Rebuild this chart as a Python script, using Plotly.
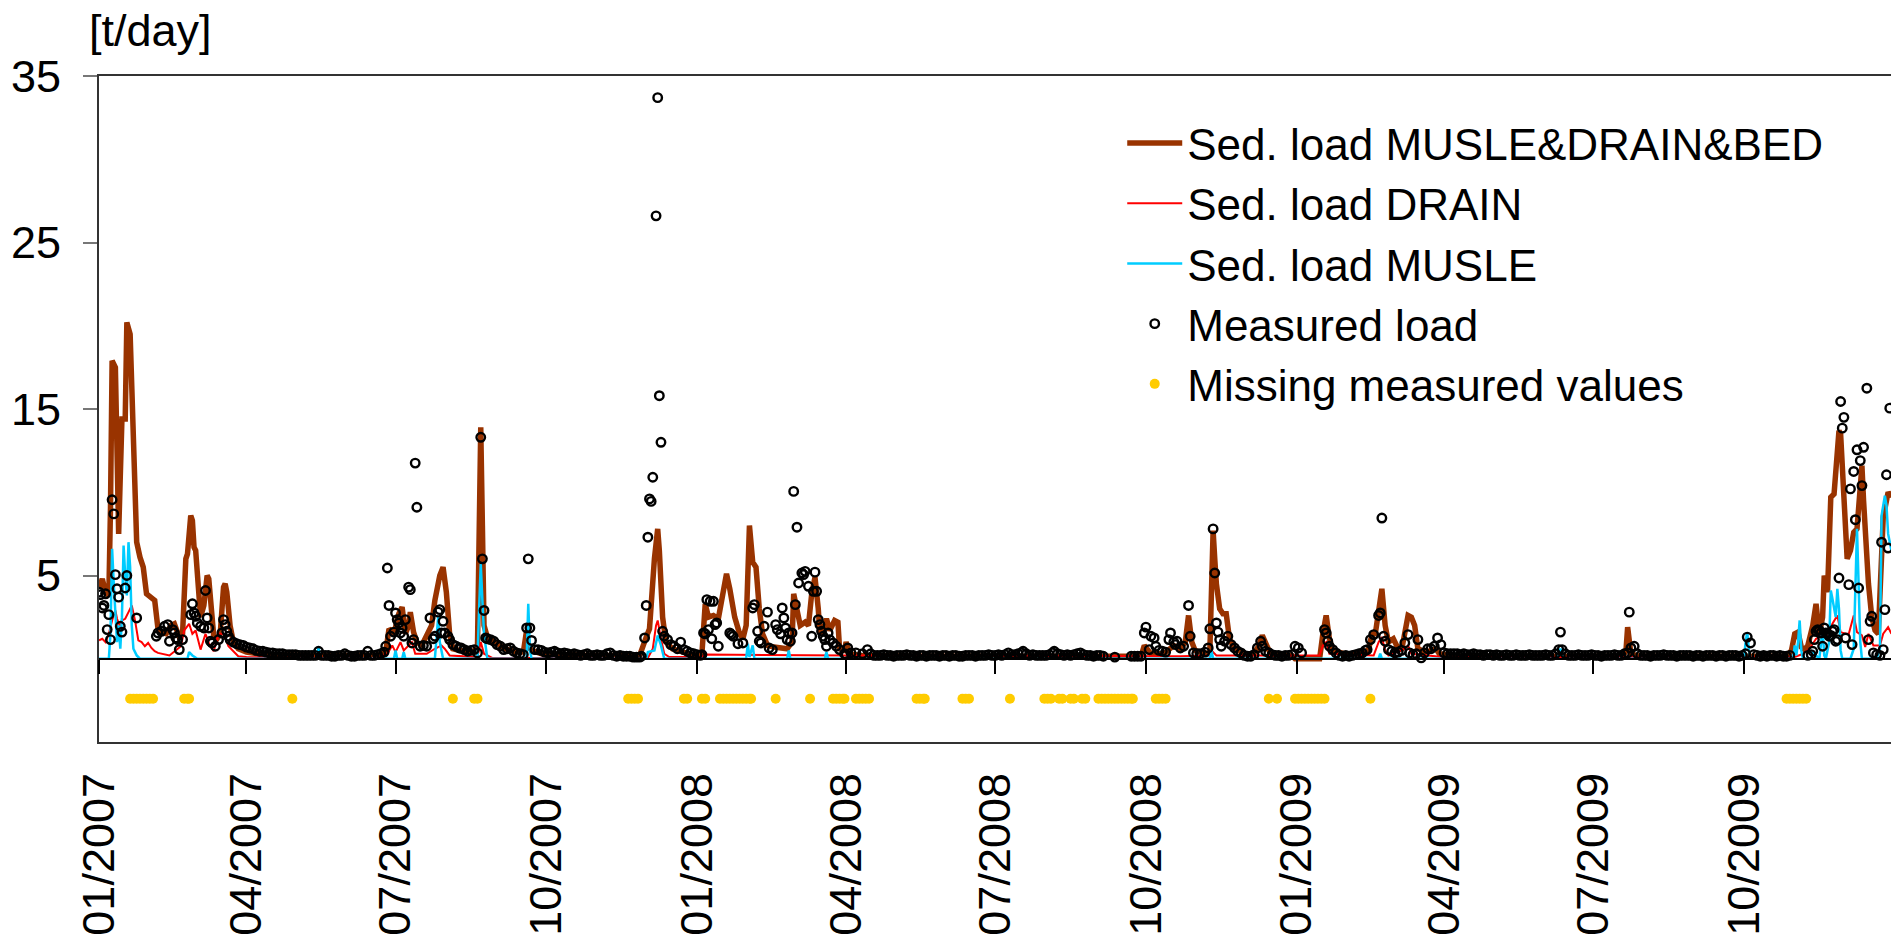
import pandas as pd
import plotly.graph_objects as go

START = pd.Timestamp("2007-01-01")

# ---------------- data (day offset from 2007-01-01, value in t/day) ----------------
brown_day = [0, 2, 4, 6, 7, 8, 10, 11, 12, 13, 14, 16, 17, 19, 20, 21, 22, 23, 25, 27, 29, 31, 34, 36, 38,
             41, 44, 46, 49, 51, 52, 53, 54, 56, 57, 58, 59, 61, 62, 64, 66, 67, 69, 70, 72, 74, 76, 77,
             78, 80, 82, 85, 90, 100, 130, 170, 175, 177, 180, 183, 185, 187, 189, 190, 192, 194, 197,
             203, 205, 208, 210, 212, 214, 216, 220, 228, 231, 232, 233, 234, 235, 237, 242, 248, 255,
             259, 261, 262, 264, 270, 300, 330, 334, 336, 339, 341, 342, 344, 346, 350, 360, 366, 368,
             369, 370, 372, 375, 378, 381, 383, 385, 388, 391, 393, 395, 397, 399, 401, 403, 405, 408,
             412, 420, 423, 424, 426, 428, 431, 433, 435, 437, 439, 440, 442, 444, 446, 449, 451, 452,
             455, 456, 458, 465, 500, 600, 636, 638, 640, 642, 650, 656, 660, 663, 665, 667, 669, 675,
             678, 679, 680, 681, 682, 684, 686, 688, 690, 693, 700, 705, 708, 710, 712, 715, 720, 728,
             730, 745, 747, 749, 751, 753, 760, 772, 775, 777, 779, 781, 783, 785, 787, 790, 792, 795,
             797, 799, 801, 803, 805, 810, 816, 818, 830, 930, 932, 933, 935, 940, 1030, 1033, 1035,
             1037, 1039, 1041, 1043, 1046, 1048, 1050, 1052, 1053, 1055, 1057, 1059, 1061, 1062, 1063,
             1065, 1067, 1069, 1071, 1073, 1075, 1076, 1077, 1078, 1080, 1082, 1084, 1086, 1088, 1089,
             1090, 1092, 1094]
brown_val = [4.2, 4.8, 4.0, 3.8, 9.0, 17.9, 17.5, 12.0, 7.5, 11.0, 14.4, 14.4, 20.2, 19.5, 16.0, 12.0, 9.0,
             7.0, 6.1, 5.5, 3.9, 3.7, 3.5, 1.8, 1.6, 1.5, 2.0, 2.1, 1.3, 1.5, 4.0, 6.0, 6.3, 8.6, 8.3,
             6.7, 6.5, 3.5, 2.5, 3.2, 5.0, 4.8, 2.5, 1.4, 1.2, 1.5, 4.3, 4.5, 4.0, 2.0, 1.0, 0.6, 0.4,
             0.25, 0.2, 0.2, 0.4, 1.8, 1.5, 2.7, 3.1, 1.5, 2.0, 2.8, 1.6, 1.0, 0.8, 2.0, 3.5, 5.0, 5.5,
             4.0, 1.5, 0.6, 0.5, 0.4, 0.7, 8.0, 13.9, 8.0, 2.0, 1.3, 1.0, 0.6, 0.4, 0.4, 1.7, 0.8, 0.5,
             0.3, 0.2, 0.2, 1.3, 1.8, 6.0, 7.8, 6.5, 2.5, 1.0, 0.6, 0.3, 0.2, 0.3, 2.5, 3.3, 2.5, 2.6,
             2.4, 4.0, 5.1, 4.2, 2.5, 1.5, 1.2, 2.0, 8.0, 5.8, 5.5, 3.0, 1.5, 0.8, 0.7, 0.6, 1.0, 3.9,
             3.0, 2.0, 2.2, 2.0, 3.9, 4.9, 3.0, 1.5, 1.7, 2.4, 1.7, 2.3, 2.2, 0.6, 0.5, 1.0, 0.3, 0.2,
             0.15, 0.15, 0.15, 0.8, 0.5, 0.3, 0.3, 0.8, 0.6, 1.0, 2.6, 1.0, 0.5, 0.3, 0.4, 4.0, 7.7,
             6.0, 4.5, 3.0, 2.7, 2.7, 1.2, 0.6, 0.3, 0.3, 0.8, 1.4, 1.0, 0.3, 0.2, 0.2, 0.0, 0.0, 1.5,
             2.6, 1.2, 0.5, 0.3, 0.3, 0.6, 1.5, 1.5, 3.0, 4.2, 2.0, 1.0, 1.2, 0.8, 0.5, 1.6, 2.6, 2.5,
             2.0, 0.6, 0.4, 0.6, 0.3, 0.15, 0.15, 0.5, 1.9, 0.3, 0.15, 0.15, 0.5, 1.5, 1.6, 0.7, 0.55,
             0.8, 2.0, 3.3, 1.5, 2.5, 5.0, 4.0, 9.7, 9.9, 12.0, 13.7, 13.5, 9.5, 6.0, 6.5, 7.6, 7.8,
             11.0, 11.6, 9.5, 7.5, 4.5, 2.5, 1.7, 1.5, 7.0, 8.5, 9.0, 10.0, 9.7]

red_day = [0, 2, 4, 6, 8, 10, 11, 13, 14, 16, 18, 20, 22, 24, 26, 28, 30, 32, 34, 36, 43, 50, 52, 55, 57,
           59, 62, 65, 67, 70, 73, 76, 79, 85, 90, 170, 176, 179, 181, 184, 186, 189, 191, 193, 200,
           205, 209, 211, 214, 231, 233, 235, 240, 335, 338, 340, 341, 343, 345, 348, 368, 370, 460,
           650, 660, 678, 680, 682, 745, 747, 749, 751, 778, 781, 783, 785, 787, 797, 799, 801, 820,
           1035, 1040, 1044, 1048, 1052, 1055, 1058, 1061, 1063, 1066, 1068, 1071, 1073, 1076, 1078,
           1080, 1083, 1087, 1089, 1092, 1094]
red_val = [1.1, 1.2, 1.0, 1.5, 2.3, 2.9, 2.4, 1.9, 2.3, 2.4, 2.8, 3.2, 2.3, 1.1, 1.0, 0.75, 0.95, 0.65,
           0.45, 0.35, 0.2, 0.75, 1.7, 2.1, 1.5, 1.7, 0.55, 1.5, 0.95, 0.45, 1.5, 1.5, 0.75, 0.15, 0.1,
           0.05, 0.3, 0.8, 0.4, 1.0, 0.5, 0.8, 1.0, 0.3, 0.3, 0.6, 0.8, 0.6, 0.2, 0.1, 1.0, 0.3, 0.05,
           0.05, 0.6, 2.0, 2.3, 1.2, 0.3, 0.1, 0.1, 0.25, 0.2, 0.15, 0.15, 0.2, 0.4, 0.2, 0.2, 0.8, 1.0,
           0.3, 0.2, 1.0, 1.3, 0.5, 0.2, 0.6, 0.8, 0.3, 0.1, 0.1, 0.3, 0.6, 1.2, 1.4, 1.3, 2.1, 2.6,
           1.6, 1.5, 1.5, 2.6, 1.6, 1.4, 0.7, 1.5, 0.8, 0.8, 1.5, 1.9, 1.5]

cyan_day = [0, 6, 7, 8, 9, 10, 11, 12, 13, 14, 15, 16, 17, 18, 19, 20, 21, 23, 25, 54, 55, 57, 60, 133,
            134, 135, 180, 181, 182, 185, 186, 187, 205, 207, 208, 210, 231, 232, 233, 234, 235, 237,
            261, 262, 263, 264, 334, 335, 339, 341, 343, 345, 395, 396, 397, 399, 400, 420, 421, 422,
            443, 444, 445, 678, 679, 680, 781, 782, 783, 890, 892, 894, 1004, 1005, 1006, 1007, 1008,
            1034, 1035, 1036, 1037, 1038, 1039, 1040, 1045, 1046, 1048, 1050, 1052, 1053, 1054, 1056,
            1057, 1058, 1060, 1061, 1062, 1063, 1064, 1069, 1071, 1073, 1074, 1075, 1076, 1085, 1087,
            1088, 1090, 1091, 1092, 1094]
cyan_val = [0, 0, 1.5, 6.6, 4.5, 3.0, 1.0, 2.0, 0.6, 2.5, 6.8, 5.0, 3.8, 7.0, 5.5, 2.0, 0.6, 0.2, 0, 0,
            0.4, 0.2, 0, 0, 0.7, 0, 0, 0.5, 0, 0, 0.4, 0, 0, 2.5, 1.0, 0, 0, 3.0, 5.7, 3.5, 1.5, 0, 0,
            3.3, 0.5, 0, 0, 0.4, 0.5, 1.4, 0.8, 0, 0, 0.9, 0.1, 0.8, 0, 0, 0.5, 0, 0, 0.4, 0, 0, 0.5, 0,
            0, 0.3, 0, 0, 0.6, 0, 0, 1.0, 1.6, 0.5, 0, 0, 0.8, 0.2, 1.0, 2.3, 0.5, 0, 0, 0.5, 0.2, 0,
            1.8, 0.2, 0, 1.0, 4.1, 3.6, 2.5, 4.2, 3.0, 0.5, 0, 0, 0.6, 7.8, 4.0, 1.0, 0, 0, 0.6, 8.6, 9.8,
            9.2, 7.5, 6.5]

meas_day_2007 = [0, 1, 2, 3, 4, 5, 6, 7, 8, 9, 10, 11, 12, 13, 14, 16, 17, 23, 35, 36, 38, 40, 42, 43, 45,
                 46, 47, 48, 49, 51, 56, 57, 58, 59, 60, 62, 64, 65, 66, 67, 68, 69, 71, 73, 75, 76, 77,
                 78, 79, 80, 82, 84, 86, 88, 90, 92, 94, 96, 98, 100, 102, 104, 106, 108, 110, 112, 114,
                 116, 118, 120, 122, 124, 126, 128, 130, 132, 134, 136, 138, 140, 142, 144, 146, 148, 150,
                 152, 154, 156, 158, 160, 162, 164, 166, 168, 170, 172, 174, 175, 176, 177, 178, 180, 181,
                 182, 183, 184, 185, 186, 187, 189, 190, 191, 192, 193, 194, 196, 198, 200, 202, 204, 205,
                 207, 208, 209, 210, 211, 213, 214, 216, 218, 220, 221, 223, 225, 227, 229, 231, 233, 234,
                 235, 236, 237, 239, 241, 243, 245, 247, 249, 251, 253, 255, 257, 259, 261, 262, 263, 264,
                 266, 268, 270, 272, 274, 276, 278, 280, 282, 284, 286, 288, 290, 292, 294, 296, 298, 300,
                 302, 304, 306, 308, 310, 312, 314, 316, 318, 320, 322, 324, 326, 328, 330, 331, 333, 334,
                 335, 336, 337, 338, 340, 341, 342, 343, 344, 345, 347, 349, 351, 353, 355, 357, 359, 361,
                 363]
meas_val_2007 = [4.0, 3.85, 3.05, 3.2, 3.9, 1.75, 2.65, 1.15, 9.55, 8.7, 5.05, 4.2, 3.7, 1.95, 1.6, 4.25,
                 5.0, 2.45, 1.35, 1.55, 1.65, 1.95, 2.05, 1.05, 1.75, 1.55, 1.25, 1.15, 0.55, 1.15, 2.65,
                 3.3, 2.75, 2.55, 2.15, 1.95, 1.85, 4.1, 2.45, 1.85, 1.05, 0.95, 0.75, 1.15, 1.55, 2.35,
                 2.05, 1.65, 1.35, 1.15, 1.0, 0.9, 0.85, 0.8, 0.7, 0.65, 0.6, 0.5, 0.45, 0.45, 0.4, 0.35,
                 0.35, 0.3, 0.3, 0.3, 0.25, 0.25, 0.25, 0.25, 0.2, 0.2, 0.2, 0.2, 0.2, 0.2, 0.45, 0.2, 0.2,
                 0.2, 0.15, 0.15, 0.2, 0.2, 0.3, 0.2, 0.15, 0.15, 0.2, 0.2, 0.2, 0.45, 0.2, 0.2, 0.25, 0.3,
                 0.4, 0.75, 5.45, 3.2, 1.35, 1.6, 2.75, 2.35, 2.15, 1.55, 1.85, 1.35, 2.35, 4.3, 4.15, 0.95,
                 1.15, 11.75, 9.1, 0.75, 0.8, 0.75, 2.45, 1.2, 1.35, 2.8, 2.95, 1.55, 2.25, 1.55, 1.35,
                 1.15, 0.85, 0.75, 0.65, 0.65, 0.55, 0.45, 0.5, 0.55, 0.35, 13.3, 6.0, 2.9, 1.25, 1.2, 1.15,
                 1.05, 0.85, 0.75, 0.55, 0.6, 0.65, 0.45, 0.35, 0.3, 0.25, 1.85, 6.0, 1.85, 1.1, 0.55,
                 0.55, 0.5, 0.4, 0.35, 0.4, 0.45, 0.35, 0.3, 0.35, 0.3, 0.25, 0.3, 0.25, 0.2, 0.25, 0.3,
                 0.2, 0.2, 0.25, 0.2, 0.2, 0.3, 0.35, 0.2, 0.15, 0.2, 0.15, 0.15, 0.15, 0.1, 0.1, 0.1, 0.15,
                 1.25, 3.2, 7.3, 9.6, 9.45, 10.9, 26.6, 33.7, 15.8, 13.0, 1.65, 1.35, 1.15, 0.85, 0.75,
                 0.6, 1.0, 0.55, 0.45, 0.35, 0.3]

meas_day_2008 = [365, 367, 368, 369, 370, 371, 372, 373, 374, 375, 376, 377, 378, 385, 386, 387, 390, 393,
                 399, 400, 402, 403, 404, 406, 408, 409, 411, 413, 414, 416, 417, 418, 419, 420, 421, 422,
                 423, 424, 425, 426, 427, 429, 430, 431, 433, 435, 436, 437, 438, 439, 440, 441, 442, 443,
                 444, 445, 446, 448, 450, 452, 455, 456, 457, 459, 462, 466, 469, 471, 473, 475, 477, 479,
                 481, 483, 485, 487, 489, 491, 493, 495, 497, 499, 501, 503, 505, 507, 509, 511, 513, 515,
                 517, 519, 521, 523, 525, 527, 529, 531, 533, 535, 537, 539, 541, 543, 545, 547, 549, 551,
                 553, 555, 557, 559, 561, 563, 564, 566, 568, 570, 572, 574, 576, 578, 580, 582, 583, 585,
                 587, 589, 591, 593, 595, 597, 599, 601, 603, 605, 607, 609, 611, 613, 620, 630, 632, 634,
                 636, 638, 639, 641, 642, 644, 645, 647, 649, 651, 653, 654, 656, 657, 658, 660, 662, 665,
                 666, 668, 670, 672, 675, 677, 678, 680, 681, 682, 683, 684, 685, 687, 689, 691, 693, 695,
                 697, 699, 701, 703, 705, 707, 709, 710, 712, 714, 716, 718, 720, 722, 724, 726, 728, 730,
                 732, 734]
meas_val_2008 = [0.25, 0.2, 0.25, 1.55, 1.5, 3.55, 1.75, 3.45, 1.2, 3.45, 2.05, 2.15, 0.75, 1.55, 1.45,
                 1.35, 0.9, 0.95, 3.05, 3.25, 1.65, 1.05, 0.95, 1.95, 2.8, 0.65, 0.55, 2.05, 1.75, 1.5,
                 3.05, 2.45, 1.85, 1.15, 1.55, 1.05, 1.55, 10.05, 3.25, 7.9, 4.55, 5.15, 5.05, 5.25, 4.35,
                 1.35, 4.05, 5.2, 4.05, 2.35, 2.05, 1.65, 1.35, 1.15, 0.75, 1.55, 1.15, 0.95, 0.75, 0.55,
                 0.3, 0.25, 0.65, 0.35, 0.35, 0.3, 0.55, 0.3, 0.2, 0.2, 0.2, 0.25, 0.2, 0.2, 0.15, 0.2, 0.2,
                 0.2, 0.25, 0.2, 0.2, 0.15, 0.2, 0.2, 0.15, 0.2, 0.2, 0.2, 0.15, 0.2, 0.2, 0.15, 0.2, 0.2,
                 0.15, 0.15, 0.2, 0.2, 0.2, 0.15, 0.2, 0.2, 0.2, 0.25, 0.2, 0.2, 0.25, 0.2, 0.25, 0.35,
                 0.25, 0.25, 0.3, 0.35, 0.45, 0.3, 0.2, 0.25, 0.2, 0.2, 0.2, 0.2, 0.25, 0.35, 0.45, 0.3,
                 0.25, 0.2, 0.25, 0.2, 0.25, 0.3, 0.35, 0.25, 0.2, 0.2, 0.15, 0.2, 0.2, 0.15, 0.1, 0.15,
                 0.15, 0.15, 0.15, 1.55, 1.9, 0.55, 1.35, 1.25, 0.75, 0.5, 0.45, 0.4, 1.15, 1.55, 1.0,
                 0.85, 1.05, 0.65, 0.75, 3.2, 1.35, 0.35, 0.3, 0.3, 0.4, 0.65, 1.8, 7.8, 5.15, 2.15, 1.6,
                 1.15, 0.75, 1.05, 1.35, 0.85, 0.65, 0.45, 0.35, 0.2, 0.15, 0.15, 0.25, 0.65, 1.05, 0.75,
                 0.45, 0.35, 0.25, 0.2, 0.2, 0.15, 0.2, 0.2, 0.25, 0.75, 0.65, 0.35]

meas_day_2009 = [748, 749, 750, 751, 753, 755, 757, 759, 761, 763, 765, 767, 769, 771, 773, 774, 776, 778,
                 781, 782, 783, 784, 785, 787, 789, 791, 793, 795, 797, 799, 800, 802, 804, 805, 807, 809,
                 811, 813, 815, 817, 819, 821, 823, 825, 827, 829, 831, 833, 835, 837, 839, 841, 843, 845,
                 847, 849, 851, 853, 855, 857, 859, 861, 863, 865, 867, 869, 871, 873, 875, 877, 879, 881,
                 883, 885, 887, 889, 891, 892, 893, 895, 897, 899, 901, 903, 905, 907, 909, 911, 913, 915,
                 917, 919, 921, 923, 925, 927, 929, 931, 933, 934, 935, 937, 939, 941, 943, 945, 947, 949,
                 951, 953, 955, 957, 959, 961, 963, 965, 967, 969, 971, 973, 975, 977, 979, 981, 983, 985,
                 987, 989, 991, 993, 995, 997, 999, 1001, 1003, 1005, 1006, 1008, 1010, 1012, 1014, 1016,
                 1018, 1020, 1022, 1024, 1026, 1028, 1030, 1032, 1043, 1045, 1046, 1047, 1048, 1049, 1050,
                 1051, 1052, 1053, 1054, 1055, 1056, 1057, 1058, 1059, 1060, 1061, 1062, 1063, 1064, 1065,
                 1066, 1068, 1069, 1070, 1071, 1072, 1073, 1074, 1075, 1076, 1077, 1079, 1080, 1081, 1082,
                 1083, 1085, 1087, 1088, 1089, 1090, 1091, 1092, 1093]
meas_val_2009 = [1.75, 1.55, 1.05, 0.75, 0.55, 0.35, 0.2, 0.15, 0.2, 0.15, 0.2, 0.25, 0.3, 0.35, 0.5, 0.55,
                 1.15, 1.45, 2.6, 2.75, 8.45, 1.35, 1.05, 0.55, 0.45, 0.35, 0.4, 0.5, 0.95, 1.45, 0.35,
                 0.25, 0.3, 1.15, 0.05, 0.35, 0.6, 0.6, 0.75, 1.25, 0.85, 0.35, 0.3, 0.3, 0.3, 0.3, 0.25,
                 0.3, 0.25, 0.25, 0.3, 0.25, 0.25, 0.2, 0.25, 0.25, 0.2, 0.25, 0.2, 0.2, 0.25, 0.2, 0.2,
                 0.25, 0.2, 0.2, 0.2, 0.25, 0.2, 0.2, 0.2, 0.2, 0.25, 0.2, 0.2, 0.3, 0.55, 1.6, 0.55, 0.3,
                 0.2, 0.2, 0.2, 0.25, 0.2, 0.2, 0.2, 0.25, 0.2, 0.2, 0.15, 0.2, 0.2, 0.2, 0.25, 0.2, 0.2,
                 0.3, 0.35, 2.8, 0.65, 0.75, 0.3, 0.2, 0.2, 0.2, 0.15, 0.2, 0.2, 0.2, 0.25, 0.2, 0.2, 0.2,
                 0.15, 0.2, 0.2, 0.2, 0.2, 0.15, 0.2, 0.2, 0.15, 0.2, 0.2, 0.2, 0.15, 0.2, 0.2, 0.15, 0.2,
                 0.2, 0.2, 0.15, 0.2, 0.3, 1.3, 0.95, 0.25, 0.2, 0.15, 0.2, 0.15, 0.2, 0.2, 0.15, 0.2, 0.15,
                 0.15, 0.2, 0.2, 0.25, 0.45, 1.15, 1.65, 1.75, 1.7, 1.55, 0.75, 1.85, 1.55, 1.5, 1.35, 1.4,
                 1.65, 1.75, 1.05, 1.15, 4.85, 15.45, 13.85, 14.5, 1.25, 4.45, 10.2, 0.85, 11.25, 8.35,
                 12.55, 4.25, 11.9, 10.4, 12.7, 16.25, 1.15, 2.25, 2.55, 0.35, 0.25, 0.2, 7.0, 0.55, 2.95,
                 11.05, 6.65, 15.05, 2.35]

missing_day = [19, 21, 23, 25, 27, 29, 31, 33, 52, 54, 55, 118, 216, 229, 231, 323, 325, 327, 329, 357,
               359, 368, 370, 379, 381, 383, 385, 387, 389, 391, 393, 395, 397, 398, 413, 434, 448, 450,
               452, 454, 455, 462, 464, 466, 468, 470, 499, 501, 503, 504, 527, 529, 531, 556, 577, 579,
               581, 586, 588, 593, 595, 600, 602, 610, 612, 614, 616, 618, 620, 622, 624, 626, 628, 630,
               631, 645, 647, 649, 651, 714, 719, 730, 732, 734, 736, 738, 740, 742, 744, 746, 748, 776,
               1030, 1032, 1034, 1036, 1038, 1040, 1042]
missing_level = -2.4

tick_days = [0, 90, 181, 273, 365, 456, 547, 639, 731, 821, 912, 1004]
tick_text = ["01/2007", "04/2007", "07/2007", "10/2007", "01/2008", "04/2008", "07/2008", "10/2008",
             "01/2009", "04/2009", "07/2009", "10/2009"]
x_end_day = 1093.75


def to_dates(days):
    return [START + pd.Timedelta(days=d) for d in days]


FONT = "Arial, 'Liberation Sans', sans-serif"

fig = go.Figure()
fig.add_trace(go.Scatter(x=to_dates(brown_day), y=brown_val, mode="lines",
                         name="Sed. load MUSLE&DRAIN&BED",
                         line=dict(color="#993300", width=5.5)))
fig.add_trace(go.Scatter(x=to_dates(red_day), y=red_val, mode="lines", name="Sed. load DRAIN",
                         line=dict(color="#FF0000", width=2)))
fig.add_trace(go.Scatter(x=to_dates(cyan_day), y=cyan_val, mode="lines", name="Sed. load MUSLE",
                         line=dict(color="#00CCFF", width=2.5)))
meas_day = meas_day_2007 + meas_day_2008 + meas_day_2009
meas_val = meas_val_2007 + meas_val_2008 + meas_val_2009
fig.add_trace(go.Scatter(x=to_dates(meas_day), y=meas_val, mode="markers", name="Measured load",
                         marker=dict(symbol="circle-open", size=8.5, color="black",
                                     line=dict(width=2.4, color="black"))))
fig.add_trace(go.Scatter(x=to_dates(missing_day), y=[missing_level] * len(missing_day), mode="markers",
                         name="Missing measured values",
                         marker=dict(symbol="circle", size=10, color="#FFCC00")))

x_range = [START, START + pd.Timedelta(days=x_end_day)]
tick_dates = to_dates(tick_days)

# empty helper trace so that the zero-level axis (x2) is rendered
fig.add_trace(go.Scatter(x=[], y=[], xaxis="x2", yaxis="y", showlegend=False, hoverinfo="skip"))

fig.update_layout(
    width=1891, height=945,
    margin=dict(l=99, r=0, t=76, b=203, autoexpand=False),
    paper_bgcolor="white", plot_bgcolor="white",
    font=dict(family=FONT, size=45, color="black"),
    showlegend=True,
    legend=dict(x=0.571, y=0.952, xanchor="left", yanchor="top", bgcolor="rgba(0,0,0,0)",
                font=dict(family=FONT, size=44, color="black"), tracegroupgap=0, itemwidth=55),
    xaxis=dict(type="date", range=x_range, showgrid=False, zeroline=False, automargin=False,
               showline=True, linecolor="#333333", linewidth=2, mirror=True,
               ticks="", tickvals=tick_dates, ticktext=tick_text, tickangle=-90,
               tickfont=dict(family=FONT, size=45, color="black"), ticklabelstandoff=11),
    xaxis2=dict(type="date", overlaying="x", matches="x", anchor="free", position=0.125,
                side="bottom", showgrid=False, zeroline=False, showline=True, linecolor="black",
                linewidth=2, ticks="outside", ticklen=14, tickwidth=1.5, tickcolor="black",
                tickvals=tick_dates, showticklabels=False, automargin=False),
    yaxis=dict(range=[-5, 35], tickvals=[5, 15, 25, 35], showgrid=False, zeroline=False,
               showline=True, linecolor="#333333", linewidth=2, ticks="outside", ticklen=14,
               tickcolor="#777777", tickwidth=1.5, automargin=False,
               tickfont=dict(family=FONT, size=45, color="black"), ticklabelstandoff=13),
    annotations=[dict(text="[t/day]", xref="paper", yref="paper", x=-0.0067, y=1.068,
                      xanchor="left", yanchor="middle", showarrow=False,
                      font=dict(family=FONT, size=45, color="black"))],
)

fig.write_html("out.html")
